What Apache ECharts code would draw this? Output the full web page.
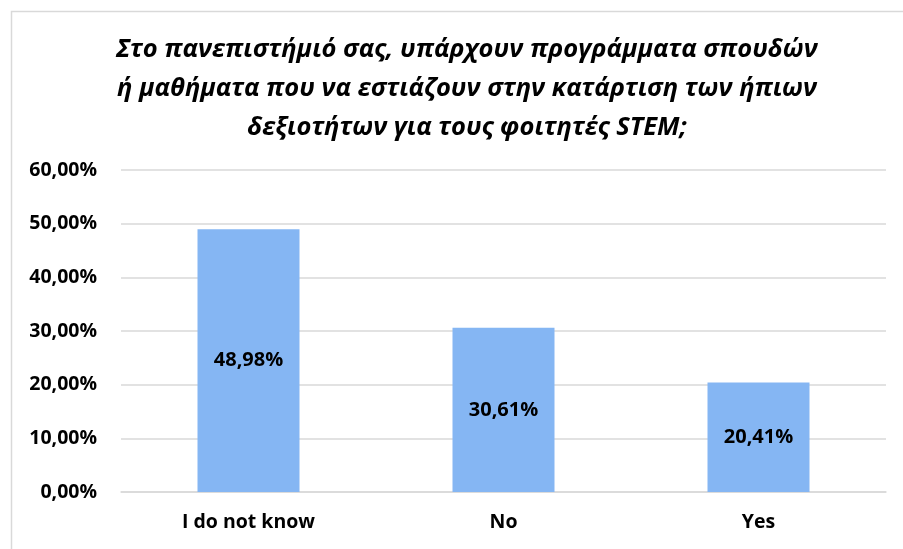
<!DOCTYPE html>
<html>
<head>
<meta charset="utf-8">
<script src="https://cdn.jsdelivr.net/npm/echarts@6/dist/echarts.min.js"></script>
<style>
html,body{margin:0;padding:0;background:#fff;}
#chart{width:903px;height:549px;}
</style>
</head>
<body>
<div id="chart"></div>
<script>
const categories = ['I do not know', 'No', 'Yes'];
const values = [48.98, 30.61, 20.41];
const yTicks = { min: 0, max: 60, interval: 10 };
const titleText = 'Στο πανεπιστήμιό σας, υπάρχουν προγράμματα σπουδών\nή μαθήματα που να εστιάζουν στην κατάρτιση των ήπιων\nδεξιοτήτων για τους φοιτητές STEM;';

const fmt = v => Number(v).toFixed(2).replace('.', ',') + '%';
const chart = echarts.init(document.getElementById('chart'), null, {renderer: 'canvas'});
chart.setOption({
  animation: false,
  backgroundColor: '#fff',
  graphic: [{
    type: 'rect', left: 9, top: 9,
    shape: {width: 1000, height: 1000},
    style: {fill: 'none', stroke: '#d9d9d9', lineWidth: 1.5},
    silent: true, z: -1
  }],
  title: {
    text: titleText,
    left: 462, textAlign: 'center', top: 25,
    textStyle: {
      fontFamily: 'Open Sans', fontStyle: 'italic', fontWeight: 'bold',
      fontSize: 25.5, lineHeight: 39, color: '#000'
    }
  },
  grid: {left: 121, right: 17, top: 170, bottom: 57},
  xAxis: {
    type: 'category', data: categories,
    axisLine: {show: true, lineStyle: {color: '#d9d9d9', width: 1.5}},
    axisTick: {show: false},
    axisLabel: {color: '#000', fontFamily: 'Open Sans', fontWeight: 'bold', fontSize: 19.5, margin: 20}
  },
  yAxis: {
    type: 'value', min: yTicks.min, max: yTicks.max, interval: yTicks.interval,
    axisLine: {show: false}, axisTick: {show: false},
    splitLine: {lineStyle: {color: '#d9d9d9', width: 1.5}},
    axisLabel: {formatter: fmt, color: '#000', fontFamily: 'Open Sans', fontWeight: 'bold', fontSize: 19.5, margin: 24}
  },
  series: [{
    type: 'bar', data: values, barWidth: '40%',
    itemStyle: {color: '#85B6F3'},
    label: {show: true, position: 'inside', formatter: p => fmt(p.value),
      color: '#000', fontFamily: 'Open Sans', fontWeight: 'bold', fontSize: 20}
  }]
});
</script>
</body>
</html>
